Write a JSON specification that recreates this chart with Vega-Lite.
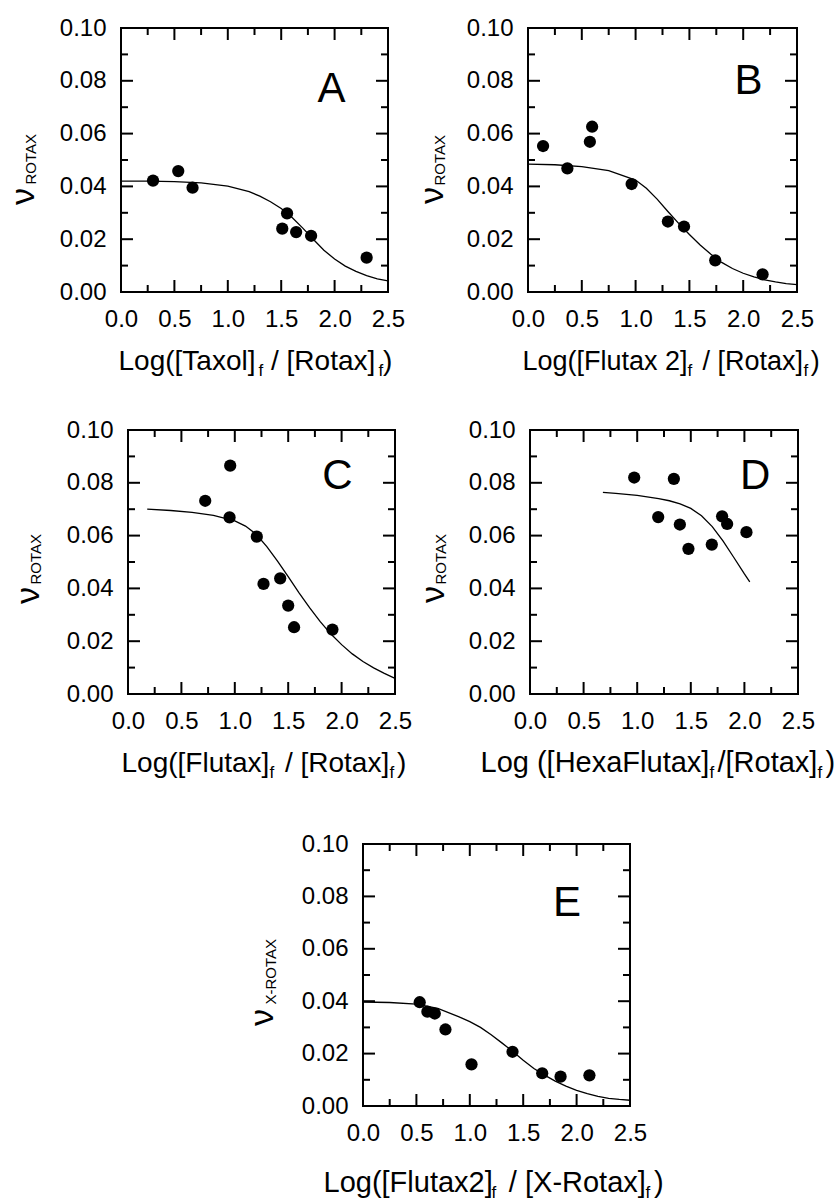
{
"$schema": "https://vega.github.io/schema/vega-lite/v6.json",
"padding": {"left": 5, "top": 15, "right": 0, "bottom": 0},
"background": "white",
"datasets": {
"A_pts": [{"x":0.30,"y":0.0422},{"x":0.536,"y":0.0458},{"x":0.67,"y":0.0395},{"x":1.51,"y":0.0240},{"x":1.555,"y":0.0298},{"x":1.64,"y":0.0227},{"x":1.78,"y":0.0213},{"x":2.30,"y":0.0130}],
"A_fit": [{"x":0,"y":0.0420},{"x":0.25,"y":0.0420},{"x":0.5,"y":0.0418},{"x":0.75,"y":0.0413},{"x":1.0,"y":0.0401},{"x":1.2,"y":0.0380},{"x":1.3,"y":0.0363},{"x":1.4,"y":0.0342},{"x":1.5,"y":0.0316},{"x":1.6,"y":0.0283},{"x":1.7,"y":0.0243},{"x":1.8,"y":0.0200},{"x":1.9,"y":0.0158},{"x":2.0,"y":0.0125},{"x":2.1,"y":0.0098},{"x":2.2,"y":0.0078},{"x":2.3,"y":0.0062},{"x":2.4,"y":0.0050},{"x":2.5,"y":0.0042}],
"B_pts": [{"x":0.14,"y":0.0553},{"x":0.366,"y":0.0468},{"x":0.575,"y":0.0569},{"x":0.596,"y":0.0626},{"x":0.963,"y":0.0409},{"x":1.30,"y":0.0267},{"x":1.45,"y":0.0248},{"x":1.74,"y":0.0120},{"x":2.18,"y":0.0067}],
"B_fit": [{"x":0,"y":0.0484},{"x":0.25,"y":0.0482},{"x":0.5,"y":0.0475},{"x":0.75,"y":0.0460},{"x":1.0,"y":0.0424},{"x":1.1,"y":0.0393},{"x":1.2,"y":0.0352},{"x":1.3,"y":0.0305},{"x":1.4,"y":0.0260},{"x":1.5,"y":0.0218},{"x":1.6,"y":0.0178},{"x":1.7,"y":0.0143},{"x":1.8,"y":0.0112},{"x":1.9,"y":0.0089},{"x":2.0,"y":0.0071},{"x":2.1,"y":0.0057},{"x":2.2,"y":0.0046},{"x":2.3,"y":0.0038},{"x":2.4,"y":0.0032},{"x":2.5,"y":0.0028}],
"C_pts": [{"x":0.723,"y":0.0732},{"x":0.957,"y":0.0865},{"x":0.951,"y":0.0669},{"x":1.206,"y":0.0596},{"x":1.269,"y":0.0417},{"x":1.425,"y":0.0438},{"x":1.50,"y":0.0335},{"x":1.555,"y":0.0253},{"x":1.914,"y":0.0244}],
"C_fit": [{"x":0.18,"y":0.0700},{"x":0.4,"y":0.0695},{"x":0.6,"y":0.0688},{"x":0.8,"y":0.0677},{"x":1.0,"y":0.0656},{"x":1.1,"y":0.0636},{"x":1.2,"y":0.0605},{"x":1.3,"y":0.0558},{"x":1.4,"y":0.0503},{"x":1.5,"y":0.0445},{"x":1.6,"y":0.0384},{"x":1.7,"y":0.0327},{"x":1.8,"y":0.0274},{"x":1.9,"y":0.0227},{"x":2.0,"y":0.0187},{"x":2.1,"y":0.0152},{"x":2.2,"y":0.0123},{"x":2.3,"y":0.0099},{"x":2.4,"y":0.0078},{"x":2.5,"y":0.0059}],
"D_pts": [{"x":0.972,"y":0.0820},{"x":1.342,"y":0.0815},{"x":1.196,"y":0.0670},{"x":1.398,"y":0.0642},{"x":1.478,"y":0.0550},{"x":1.696,"y":0.0566},{"x":1.792,"y":0.0673},{"x":1.839,"y":0.0644},{"x":2.019,"y":0.0613}],
"D_fit": [{"x":0.68,"y":0.0764},{"x":0.8,"y":0.0760},{"x":1.0,"y":0.0752},{"x":1.2,"y":0.0740},{"x":1.3,"y":0.0732},{"x":1.4,"y":0.0720},{"x":1.5,"y":0.0703},{"x":1.6,"y":0.0675},{"x":1.7,"y":0.0634},{"x":1.8,"y":0.0580},{"x":1.9,"y":0.0518},{"x":2.0,"y":0.0455},{"x":2.05,"y":0.0425}],
"E_pts": [{"x":0.531,"y":0.0396},{"x":0.603,"y":0.0360},{"x":0.672,"y":0.0353},{"x":0.772,"y":0.0292},{"x":1.016,"y":0.0159},{"x":1.40,"y":0.0207},{"x":1.678,"y":0.0125},{"x":1.85,"y":0.0112},{"x":2.12,"y":0.0117}],
"E_fit": [{"x":0,"y":0.0397},{"x":0.25,"y":0.0395},{"x":0.5,"y":0.0389},{"x":0.7,"y":0.0373},{"x":0.9,"y":0.0340},{"x":1.0,"y":0.0322},{"x":1.1,"y":0.0300},{"x":1.2,"y":0.0272},{"x":1.3,"y":0.0241},{"x":1.4,"y":0.0209},{"x":1.5,"y":0.0175},{"x":1.6,"y":0.0143},{"x":1.7,"y":0.0118},{"x":1.8,"y":0.0095},{"x":1.9,"y":0.0076},{"x":2.0,"y":0.0060},{"x":2.1,"y":0.0047},{"x":2.2,"y":0.0037},{"x":2.3,"y":0.0029},{"x":2.4,"y":0.0025},{"x":2.5,"y":0.0022}]
},
"vconcat": [
{"vconcat": [
{"hconcat": [
{"width": 267, "height": 264, "view": {"stroke": "black", "strokeWidth": 2},
"layer": [
{"data": {"name": "A_pts"}, "mark": {"type": "circle", "size": 150, "color": "black", "opacity": 1},
"encoding": {
"x": {"field": "x", "type": "quantitative", "scale": {"domain": [0, 2.5], "nice": false}, "axis": {"orient": "bottom", "values": [0,0.5,1,1.5,2,2.5], "format": ".1f", "labelPadding": 15, "title": "Log([Taxol]\u00a0 / [Rotax]\u00a0)", "titleFontSize": 28, "titleAlign": "left", "titleBaseline": "alphabetic", "titleAngle": 0, "titleX": -3, "titleY": 77}},
"y": {"field": "y", "type": "quantitative", "scale": {"domain": [0, 0.1], "nice": false}, "axis": {"orient": "left", "values": [0,0.02,0.04,0.06,0.08,0.1], "format": ".2f", "labelPadding": 15, "title": "ν", "titleFontSize": 34, "titleAngle": -90, "titleAlign": "center", "titleBaseline": "alphabetic", "titleX": -88, "titleY": 168}}}},
{"data": {"name": "A_fit"}, "mark": {"type": "line", "color": "black", "strokeWidth": 1.3},
"encoding": {"x": {"field": "x", "type": "quantitative", "axis": null}, "y": {"field": "y", "type": "quantitative", "axis": null}}},
{"data": {"values": [{"panel": "A"}]}, "mark": {"type": "text", "fontSize": 42, "font": "Liberation Sans", "color": "black", "align": "center", "baseline": "middle"},
"encoding": {
"x": {"datum": 1.97, "type": "quantitative", "axis": {"orient": "bottom", "values": [0.25], "labels": false, "title": "f", "titleFontSize": 17, "titleAlign": "left", "titleBaseline": "alphabetic", "titleAngle": 0, "titleX": 137, "titleY": 83}},
"y": {"datum": 0.077, "type": "quantitative", "axis": {"orient": "left", "values": [0.01], "labels": false, "title": "ROTAX", "titleFontSize": 15, "titleAngle": -90, "titleAlign": "left", "titleBaseline": "alphabetic", "titleX": -86, "titleY": 156}},
"text": {"field": "panel"}}},
{"data": {"values": [{"t":0},{"t":0.5},{"t":1},{"t":1.5},{"t":2},{"t":2.5}]}, "mark": {"type": "point", "shape": "M0,-1L0,1", "size": 144, "filled": false, "strokeWidth": 2, "color": "black", "opacity": 1},
"encoding": {"x": {"field": "t", "type": "quantitative", "axis": {"orient": "bottom", "values": [0.25], "labels": false, "title": "f", "titleFontSize": 17, "titleAlign": "left", "titleBaseline": "alphabetic", "titleAngle": 0, "titleX": 257, "titleY": 83}}, "y": {"datum": 0.00227, "type": "quantitative", "axis": null}}},
{"data": {"values": [{"t":0},{"t":0.5},{"t":1},{"t":1.5},{"t":2},{"t":2.5}]}, "mark": {"type": "point", "shape": "M0,-1L0,1", "size": 144, "filled": false, "strokeWidth": 2, "color": "black", "opacity": 1},
"encoding": {"x": {"field": "t", "type": "quantitative", "axis": null}, "y": {"datum": 0.09773, "type": "quantitative", "axis": null}}},
{"data": {"values": [{"t":0.25},{"t":0.75},{"t":1.25},{"t":1.75},{"t":2.25}]}, "mark": {"type": "point", "shape": "M0,-1L0,1", "size": 49, "filled": false, "strokeWidth": 2, "color": "black", "opacity": 1},
"encoding": {"x": {"field": "t", "type": "quantitative", "axis": null}, "y": {"datum": 0.00133, "type": "quantitative", "axis": null}}},
{"data": {"values": [{"t":0.25},{"t":0.75},{"t":1.25},{"t":1.75},{"t":2.25}]}, "mark": {"type": "point", "shape": "M0,-1L0,1", "size": 49, "filled": false, "strokeWidth": 2, "color": "black", "opacity": 1},
"encoding": {"x": {"field": "t", "type": "quantitative", "axis": null}, "y": {"datum": 0.09867, "type": "quantitative", "axis": null}}},
{"data": {"values": [{"t":0},{"t":0.02},{"t":0.04},{"t":0.06},{"t":0.08},{"t":0.1}]}, "mark": {"type": "point", "shape": "M-1,0L1,0", "size": 144, "filled": false, "strokeWidth": 2, "color": "black", "opacity": 1},
"encoding": {"y": {"field": "t", "type": "quantitative", "axis": null}, "x": {"datum": 0.056, "type": "quantitative", "axis": null}}},
{"data": {"values": [{"t":0},{"t":0.02},{"t":0.04},{"t":0.06},{"t":0.08},{"t":0.1}]}, "mark": {"type": "point", "shape": "M-1,0L1,0", "size": 144, "filled": false, "strokeWidth": 2, "color": "black", "opacity": 1},
"encoding": {"y": {"field": "t", "type": "quantitative", "axis": null}, "x": {"datum": 2.444, "type": "quantitative", "axis": null}}},
{"data": {"values": [{"t":0.01},{"t":0.03},{"t":0.05},{"t":0.07},{"t":0.09}]}, "mark": {"type": "point", "shape": "M-1,0L1,0", "size": 49, "filled": false, "strokeWidth": 2, "color": "black", "opacity": 1},
"encoding": {"y": {"field": "t", "type": "quantitative", "axis": null}, "x": {"datum": 0.0328, "type": "quantitative", "axis": null}}},
{"data": {"values": [{"t":0.01},{"t":0.03},{"t":0.05},{"t":0.07},{"t":0.09}]}, "mark": {"type": "point", "shape": "M-1,0L1,0", "size": 49, "filled": false, "strokeWidth": 2, "color": "black", "opacity": 1},
"encoding": {"y": {"field": "t", "type": "quantitative", "axis": null}, "x": {"datum": 2.4672, "type": "quantitative", "axis": null}}}
],
"resolve": {"axis": {"x": "independent", "y": "independent"}}},
{"width": 269, "height": 264, "view": {"stroke": "black", "strokeWidth": 2},
"layer": [
{"data": {"name": "B_pts"}, "mark": {"type": "circle", "size": 150, "color": "black", "opacity": 1},
"encoding": {
"x": {"field": "x", "type": "quantitative", "scale": {"domain": [0, 2.5], "nice": false}, "axis": {"orient": "bottom", "values": [0,0.5,1,1.5,2,2.5], "format": ".1f", "labelPadding": 15, "title": "Log([Flutax 2]\u00a0 / [Rotax]\u00a0)", "titleFontSize": 27, "titleAlign": "left", "titleBaseline": "alphabetic", "titleAngle": 0, "titleX": -6, "titleY": 77}},
"y": {"field": "y", "type": "quantitative", "scale": {"domain": [0, 0.1], "nice": false}, "axis": {"orient": "left", "values": [0,0.02,0.04,0.06,0.08,0.1], "format": ".2f", "labelPadding": 15, "title": "ν", "titleFontSize": 34, "titleAngle": -90, "titleAlign": "center", "titleBaseline": "alphabetic", "titleX": -86, "titleY": 167}}}},
{"data": {"name": "B_fit"}, "mark": {"type": "line", "color": "black", "strokeWidth": 1.3},
"encoding": {"x": {"field": "x", "type": "quantitative", "axis": null}, "y": {"field": "y", "type": "quantitative", "axis": null}}},
{"data": {"values": [{"panel": "B"}]}, "mark": {"type": "text", "fontSize": 42, "font": "Liberation Sans", "color": "black", "align": "center", "baseline": "middle"},
"encoding": {
"x": {"datum": 2.05, "type": "quantitative", "axis": {"orient": "bottom", "values": [0.25], "labels": false, "title": "f", "titleFontSize": 17, "titleAlign": "left", "titleBaseline": "alphabetic", "titleAngle": 0, "titleX": 159, "titleY": 83}},
"y": {"datum": 0.080, "type": "quantitative", "axis": {"orient": "left", "values": [0.01], "labels": false, "title": "ROTAX", "titleFontSize": 15, "titleAngle": -90, "titleAlign": "left", "titleBaseline": "alphabetic", "titleX": -84, "titleY": 157}},
"text": {"field": "panel"}}},
{"data": {"values": [{"t":0},{"t":0.5},{"t":1},{"t":1.5},{"t":2},{"t":2.5}]}, "mark": {"type": "point", "shape": "M0,-1L0,1", "size": 144, "filled": false, "strokeWidth": 2, "color": "black", "opacity": 1},
"encoding": {"x": {"field": "t", "type": "quantitative", "axis": {"orient": "bottom", "values": [0.25], "labels": false, "title": "f", "titleFontSize": 17, "titleAlign": "left", "titleBaseline": "alphabetic", "titleAngle": 0, "titleX": 275, "titleY": 83}}, "y": {"datum": 0.00227, "type": "quantitative", "axis": null}}},
{"data": {"values": [{"t":0},{"t":0.5},{"t":1},{"t":1.5},{"t":2},{"t":2.5}]}, "mark": {"type": "point", "shape": "M0,-1L0,1", "size": 144, "filled": false, "strokeWidth": 2, "color": "black", "opacity": 1},
"encoding": {"x": {"field": "t", "type": "quantitative", "axis": null}, "y": {"datum": 0.09773, "type": "quantitative", "axis": null}}},
{"data": {"values": [{"t":0.25},{"t":0.75},{"t":1.25},{"t":1.75},{"t":2.25}]}, "mark": {"type": "point", "shape": "M0,-1L0,1", "size": 49, "filled": false, "strokeWidth": 2, "color": "black", "opacity": 1},
"encoding": {"x": {"field": "t", "type": "quantitative", "axis": null}, "y": {"datum": 0.00133, "type": "quantitative", "axis": null}}},
{"data": {"values": [{"t":0.25},{"t":0.75},{"t":1.25},{"t":1.75},{"t":2.25}]}, "mark": {"type": "point", "shape": "M0,-1L0,1", "size": 49, "filled": false, "strokeWidth": 2, "color": "black", "opacity": 1},
"encoding": {"x": {"field": "t", "type": "quantitative", "axis": null}, "y": {"datum": 0.09867, "type": "quantitative", "axis": null}}},
{"data": {"values": [{"t":0},{"t":0.02},{"t":0.04},{"t":0.06},{"t":0.08},{"t":0.1}]}, "mark": {"type": "point", "shape": "M-1,0L1,0", "size": 144, "filled": false, "strokeWidth": 2, "color": "black", "opacity": 1},
"encoding": {"y": {"field": "t", "type": "quantitative", "axis": null}, "x": {"datum": 0.056, "type": "quantitative", "axis": null}}},
{"data": {"values": [{"t":0},{"t":0.02},{"t":0.04},{"t":0.06},{"t":0.08},{"t":0.1}]}, "mark": {"type": "point", "shape": "M-1,0L1,0", "size": 144, "filled": false, "strokeWidth": 2, "color": "black", "opacity": 1},
"encoding": {"y": {"field": "t", "type": "quantitative", "axis": null}, "x": {"datum": 2.444, "type": "quantitative", "axis": null}}},
{"data": {"values": [{"t":0.01},{"t":0.03},{"t":0.05},{"t":0.07},{"t":0.09}]}, "mark": {"type": "point", "shape": "M-1,0L1,0", "size": 49, "filled": false, "strokeWidth": 2, "color": "black", "opacity": 1},
"encoding": {"y": {"field": "t", "type": "quantitative", "axis": null}, "x": {"datum": 0.0328, "type": "quantitative", "axis": null}}},
{"data": {"values": [{"t":0.01},{"t":0.03},{"t":0.05},{"t":0.07},{"t":0.09}]}, "mark": {"type": "point", "shape": "M-1,0L1,0", "size": 49, "filled": false, "strokeWidth": 2, "color": "black", "opacity": 1},
"encoding": {"y": {"field": "t", "type": "quantitative", "axis": null}, "x": {"datum": 2.4672, "type": "quantitative", "axis": null}}}
],
"resolve": {"axis": {"x": "independent", "y": "independent"}}}
], "spacing": 140, "bounds": "flush"},
{"hconcat": [
{"width": 1, "height": 1, "data": {"values": [{}]}, "mark": {"type": "text", "text": ""}},
{"hconcat": [
{"width": 267, "height": 264, "view": {"stroke": "black", "strokeWidth": 2},
"layer": [
{"data": {"name": "C_pts"}, "mark": {"type": "circle", "size": 150, "color": "black", "opacity": 1},
"encoding": {
"x": {"field": "x", "type": "quantitative", "scale": {"domain": [0, 2.5], "nice": false}, "axis": {"orient": "bottom", "values": [0,0.5,1,1.5,2,2.5], "format": ".1f", "labelPadding": 15, "title": "Log([Flutax]\u00a0 / [Rotax]\u00a0)", "titleFontSize": 28, "titleAlign": "left", "titleBaseline": "alphabetic", "titleAngle": 0, "titleX": -7, "titleY": 77}},
"y": {"field": "y", "type": "quantitative", "scale": {"domain": [0, 0.1], "nice": false}, "axis": {"orient": "left", "values": [0,0.02,0.04,0.06,0.08,0.1], "format": ".2f", "labelPadding": 15, "title": "ν", "titleFontSize": 34, "titleAngle": -90, "titleAlign": "center", "titleBaseline": "alphabetic", "titleX": -90, "titleY": 165}}}},
{"data": {"name": "C_fit"}, "mark": {"type": "line", "color": "black", "strokeWidth": 1.3},
"encoding": {"x": {"field": "x", "type": "quantitative", "axis": null}, "y": {"field": "y", "type": "quantitative", "axis": null}}},
{"data": {"values": [{"panel": "C"}]}, "mark": {"type": "text", "fontSize": 42, "font": "Liberation Sans", "color": "black", "align": "center", "baseline": "middle"},
"encoding": {
"x": {"datum": 1.96, "type": "quantitative", "axis": {"orient": "bottom", "values": [0.25], "labels": false, "title": "f", "titleFontSize": 17, "titleAlign": "left", "titleBaseline": "alphabetic", "titleAngle": 0, "titleX": 141, "titleY": 83}},
"y": {"datum": 0.0826, "type": "quantitative", "axis": {"orient": "left", "values": [0.01], "labels": false, "title": "ROTAX", "titleFontSize": 15, "titleAngle": -90, "titleAlign": "left", "titleBaseline": "alphabetic", "titleX": -88, "titleY": 154}},
"text": {"field": "panel"}}},
{"data": {"values": [{"t":0},{"t":0.5},{"t":1},{"t":1.5},{"t":2},{"t":2.5}]}, "mark": {"type": "point", "shape": "M0,-1L0,1", "size": 144, "filled": false, "strokeWidth": 2, "color": "black", "opacity": 1},
"encoding": {"x": {"field": "t", "type": "quantitative", "axis": {"orient": "bottom", "values": [0.25], "labels": false, "title": "f", "titleFontSize": 17, "titleAlign": "left", "titleBaseline": "alphabetic", "titleAngle": 0, "titleX": 261, "titleY": 83}}, "y": {"datum": 0.00227, "type": "quantitative", "axis": null}}},
{"data": {"values": [{"t":0},{"t":0.5},{"t":1},{"t":1.5},{"t":2},{"t":2.5}]}, "mark": {"type": "point", "shape": "M0,-1L0,1", "size": 144, "filled": false, "strokeWidth": 2, "color": "black", "opacity": 1},
"encoding": {"x": {"field": "t", "type": "quantitative", "axis": null}, "y": {"datum": 0.09773, "type": "quantitative", "axis": null}}},
{"data": {"values": [{"t":0.25},{"t":0.75},{"t":1.25},{"t":1.75},{"t":2.25}]}, "mark": {"type": "point", "shape": "M0,-1L0,1", "size": 49, "filled": false, "strokeWidth": 2, "color": "black", "opacity": 1},
"encoding": {"x": {"field": "t", "type": "quantitative", "axis": null}, "y": {"datum": 0.00133, "type": "quantitative", "axis": null}}},
{"data": {"values": [{"t":0.25},{"t":0.75},{"t":1.25},{"t":1.75},{"t":2.25}]}, "mark": {"type": "point", "shape": "M0,-1L0,1", "size": 49, "filled": false, "strokeWidth": 2, "color": "black", "opacity": 1},
"encoding": {"x": {"field": "t", "type": "quantitative", "axis": null}, "y": {"datum": 0.09867, "type": "quantitative", "axis": null}}},
{"data": {"values": [{"t":0},{"t":0.02},{"t":0.04},{"t":0.06},{"t":0.08},{"t":0.1}]}, "mark": {"type": "point", "shape": "M-1,0L1,0", "size": 144, "filled": false, "strokeWidth": 2, "color": "black", "opacity": 1},
"encoding": {"y": {"field": "t", "type": "quantitative", "axis": null}, "x": {"datum": 0.056, "type": "quantitative", "axis": null}}},
{"data": {"values": [{"t":0},{"t":0.02},{"t":0.04},{"t":0.06},{"t":0.08},{"t":0.1}]}, "mark": {"type": "point", "shape": "M-1,0L1,0", "size": 144, "filled": false, "strokeWidth": 2, "color": "black", "opacity": 1},
"encoding": {"y": {"field": "t", "type": "quantitative", "axis": null}, "x": {"datum": 2.444, "type": "quantitative", "axis": null}}},
{"data": {"values": [{"t":0.01},{"t":0.03},{"t":0.05},{"t":0.07},{"t":0.09}]}, "mark": {"type": "point", "shape": "M-1,0L1,0", "size": 49, "filled": false, "strokeWidth": 2, "color": "black", "opacity": 1},
"encoding": {"y": {"field": "t", "type": "quantitative", "axis": null}, "x": {"datum": 0.0328, "type": "quantitative", "axis": null}}},
{"data": {"values": [{"t":0.01},{"t":0.03},{"t":0.05},{"t":0.07},{"t":0.09}]}, "mark": {"type": "point", "shape": "M-1,0L1,0", "size": 49, "filled": false, "strokeWidth": 2, "color": "black", "opacity": 1},
"encoding": {"y": {"field": "t", "type": "quantitative", "axis": null}, "x": {"datum": 2.4672, "type": "quantitative", "axis": null}}}
],
"resolve": {"axis": {"x": "independent", "y": "independent"}}},
{"width": 268, "height": 264, "view": {"stroke": "black", "strokeWidth": 2},
"layer": [
{"data": {"name": "D_pts"}, "mark": {"type": "circle", "size": 150, "color": "black", "opacity": 1},
"encoding": {
"x": {"field": "x", "type": "quantitative", "scale": {"domain": [0, 2.5], "nice": false}, "axis": {"orient": "bottom", "values": [0,0.5,1,1.5,2,2.5], "format": ".1f", "labelPadding": 15, "title": "Log ([HexaFlutax]\u00a0/[Rotax]\u00a0)", "titleFontSize": 29, "titleAlign": "left", "titleBaseline": "alphabetic", "titleAngle": 0, "titleX": -50, "titleY": 77}},
"y": {"field": "y", "type": "quantitative", "scale": {"domain": [0, 0.1], "nice": false}, "axis": {"orient": "left", "values": [0,0.02,0.04,0.06,0.08,0.1], "format": ".2f", "labelPadding": 15, "title": "ν", "titleFontSize": 34, "titleAngle": -90, "titleAlign": "center", "titleBaseline": "alphabetic", "titleX": -87, "titleY": 164}}}},
{"data": {"name": "D_fit"}, "mark": {"type": "line", "color": "black", "strokeWidth": 1.3},
"encoding": {"x": {"field": "x", "type": "quantitative", "axis": null}, "y": {"field": "y", "type": "quantitative", "axis": null}}},
{"data": {"values": [{"panel": "D"}]}, "mark": {"type": "text", "fontSize": 42, "font": "Liberation Sans", "color": "black", "align": "center", "baseline": "middle"},
"encoding": {
"x": {"datum": 2.10, "type": "quantitative", "axis": {"orient": "bottom", "values": [0.25], "labels": false, "title": "f", "titleFontSize": 17, "titleAlign": "left", "titleBaseline": "alphabetic", "titleAngle": 0, "titleX": 179, "titleY": 83}},
"y": {"datum": 0.0826, "type": "quantitative", "axis": {"orient": "left", "values": [0.01], "labels": false, "title": "ROTAX", "titleFontSize": 15, "titleAngle": -90, "titleAlign": "left", "titleBaseline": "alphabetic", "titleX": -85, "titleY": 154}},
"text": {"field": "panel"}}},
{"data": {"values": [{"t":0},{"t":0.5},{"t":1},{"t":1.5},{"t":2},{"t":2.5}]}, "mark": {"type": "point", "shape": "M0,-1L0,1", "size": 144, "filled": false, "strokeWidth": 2, "color": "black", "opacity": 1},
"encoding": {"x": {"field": "t", "type": "quantitative", "axis": {"orient": "bottom", "values": [0.25], "labels": false, "title": "f", "titleFontSize": 17, "titleAlign": "left", "titleBaseline": "alphabetic", "titleAngle": 0, "titleX": 287, "titleY": 83}}, "y": {"datum": 0.00227, "type": "quantitative", "axis": null}}},
{"data": {"values": [{"t":0},{"t":0.5},{"t":1},{"t":1.5},{"t":2},{"t":2.5}]}, "mark": {"type": "point", "shape": "M0,-1L0,1", "size": 144, "filled": false, "strokeWidth": 2, "color": "black", "opacity": 1},
"encoding": {"x": {"field": "t", "type": "quantitative", "axis": null}, "y": {"datum": 0.09773, "type": "quantitative", "axis": null}}},
{"data": {"values": [{"t":0.25},{"t":0.75},{"t":1.25},{"t":1.75},{"t":2.25}]}, "mark": {"type": "point", "shape": "M0,-1L0,1", "size": 49, "filled": false, "strokeWidth": 2, "color": "black", "opacity": 1},
"encoding": {"x": {"field": "t", "type": "quantitative", "axis": null}, "y": {"datum": 0.00133, "type": "quantitative", "axis": null}}},
{"data": {"values": [{"t":0.25},{"t":0.75},{"t":1.25},{"t":1.75},{"t":2.25}]}, "mark": {"type": "point", "shape": "M0,-1L0,1", "size": 49, "filled": false, "strokeWidth": 2, "color": "black", "opacity": 1},
"encoding": {"x": {"field": "t", "type": "quantitative", "axis": null}, "y": {"datum": 0.09867, "type": "quantitative", "axis": null}}},
{"data": {"values": [{"t":0},{"t":0.02},{"t":0.04},{"t":0.06},{"t":0.08},{"t":0.1}]}, "mark": {"type": "point", "shape": "M-1,0L1,0", "size": 144, "filled": false, "strokeWidth": 2, "color": "black", "opacity": 1},
"encoding": {"y": {"field": "t", "type": "quantitative", "axis": null}, "x": {"datum": 0.056, "type": "quantitative", "axis": null}}},
{"data": {"values": [{"t":0},{"t":0.02},{"t":0.04},{"t":0.06},{"t":0.08},{"t":0.1}]}, "mark": {"type": "point", "shape": "M-1,0L1,0", "size": 144, "filled": false, "strokeWidth": 2, "color": "black", "opacity": 1},
"encoding": {"y": {"field": "t", "type": "quantitative", "axis": null}, "x": {"datum": 2.444, "type": "quantitative", "axis": null}}},
{"data": {"values": [{"t":0.01},{"t":0.03},{"t":0.05},{"t":0.07},{"t":0.09}]}, "mark": {"type": "point", "shape": "M-1,0L1,0", "size": 49, "filled": false, "strokeWidth": 2, "color": "black", "opacity": 1},
"encoding": {"y": {"field": "t", "type": "quantitative", "axis": null}, "x": {"datum": 0.0328, "type": "quantitative", "axis": null}}},
{"data": {"values": [{"t":0.01},{"t":0.03},{"t":0.05},{"t":0.07},{"t":0.09}]}, "mark": {"type": "point", "shape": "M-1,0L1,0", "size": 49, "filled": false, "strokeWidth": 2, "color": "black", "opacity": 1},
"encoding": {"y": {"field": "t", "type": "quantitative", "axis": null}, "x": {"datum": 2.4672, "type": "quantitative", "axis": null}}}
],
"resolve": {"axis": {"x": "independent", "y": "independent"}}}
], "spacing": 135, "bounds": "flush"}
], "spacing": 6, "bounds": "flush"}
], "spacing": 402, "bounds": "flush"},
{"hconcat": [
{"width": 202, "height": 1, "data": {"values": [{}]}, "mark": {"type": "text", "text": ""}},
{"width": 267, "height": 262, "view": {"stroke": "black", "strokeWidth": 2},
"layer": [
{"data": {"name": "E_pts"}, "mark": {"type": "circle", "size": 150, "color": "black", "opacity": 1},
"encoding": {
"x": {"field": "x", "type": "quantitative", "scale": {"domain": [0, 2.5], "nice": false}, "axis": {"orient": "bottom", "values": [0,0.5,1,1.5,2,2.5], "format": ".1f", "labelPadding": 15, "title": "Log([Flutax2]\u00a0 / [X-Rotax]\u00a0)", "titleFontSize": 29, "titleAlign": "left", "titleBaseline": "alphabetic", "titleAngle": 0, "titleX": -40, "titleY": 85}},
"y": {"field": "y", "type": "quantitative", "scale": {"domain": [0, 0.1], "nice": false}, "axis": {"orient": "left", "values": [0,0.02,0.04,0.06,0.08,0.1], "format": ".2f", "labelPadding": 15, "title": "ν", "titleFontSize": 34, "titleAngle": -90, "titleAlign": "center", "titleBaseline": "alphabetic", "titleX": -91, "titleY": 173}}}},
{"data": {"name": "E_fit"}, "mark": {"type": "line", "color": "black", "strokeWidth": 1.3},
"encoding": {"x": {"field": "x", "type": "quantitative", "axis": null}, "y": {"field": "y", "type": "quantitative", "axis": null}}},
{"data": {"values": [{"panel": "E"}]}, "mark": {"type": "text", "fontSize": 42, "font": "Liberation Sans", "color": "black", "align": "center", "baseline": "middle"},
"encoding": {
"x": {"datum": 1.91, "type": "quantitative", "axis": {"orient": "bottom", "values": [0.25], "labels": false, "title": "f", "titleFontSize": 17, "titleAlign": "left", "titleBaseline": "alphabetic", "titleAngle": 0, "titleX": 128, "titleY": 91}},
"y": {"datum": 0.0775, "type": "quantitative", "axis": {"orient": "left", "values": [0.01], "labels": false, "title": "X-ROTAX", "titleFontSize": 15, "titleAngle": -90, "titleAlign": "left", "titleBaseline": "alphabetic", "titleX": -88, "titleY": 160}},
"text": {"field": "panel"}}},
{"data": {"values": [{"t":0},{"t":0.5},{"t":1},{"t":1.5},{"t":2},{"t":2.5}]}, "mark": {"type": "point", "shape": "M0,-1L0,1", "size": 144, "filled": false, "strokeWidth": 2, "color": "black", "opacity": 1},
"encoding": {"x": {"field": "t", "type": "quantitative", "axis": {"orient": "bottom", "values": [0.25], "labels": false, "title": "f", "titleFontSize": 17, "titleAlign": "left", "titleBaseline": "alphabetic", "titleAngle": 0, "titleX": 282, "titleY": 91}}, "y": {"datum": 0.00229, "type": "quantitative", "axis": null}}},
{"data": {"values": [{"t":0},{"t":0.5},{"t":1},{"t":1.5},{"t":2},{"t":2.5}]}, "mark": {"type": "point", "shape": "M0,-1L0,1", "size": 144, "filled": false, "strokeWidth": 2, "color": "black", "opacity": 1},
"encoding": {"x": {"field": "t", "type": "quantitative", "axis": null}, "y": {"datum": 0.09771, "type": "quantitative", "axis": null}}},
{"data": {"values": [{"t":0.25},{"t":0.75},{"t":1.25},{"t":1.75},{"t":2.25}]}, "mark": {"type": "point", "shape": "M0,-1L0,1", "size": 49, "filled": false, "strokeWidth": 2, "color": "black", "opacity": 1},
"encoding": {"x": {"field": "t", "type": "quantitative", "axis": null}, "y": {"datum": 0.00134, "type": "quantitative", "axis": null}}},
{"data": {"values": [{"t":0.25},{"t":0.75},{"t":1.25},{"t":1.75},{"t":2.25}]}, "mark": {"type": "point", "shape": "M0,-1L0,1", "size": 49, "filled": false, "strokeWidth": 2, "color": "black", "opacity": 1},
"encoding": {"x": {"field": "t", "type": "quantitative", "axis": null}, "y": {"datum": 0.09866, "type": "quantitative", "axis": null}}},
{"data": {"values": [{"t":0},{"t":0.02},{"t":0.04},{"t":0.06},{"t":0.08},{"t":0.1}]}, "mark": {"type": "point", "shape": "M-1,0L1,0", "size": 144, "filled": false, "strokeWidth": 2, "color": "black", "opacity": 1},
"encoding": {"y": {"field": "t", "type": "quantitative", "axis": null}, "x": {"datum": 0.056, "type": "quantitative", "axis": null}}},
{"data": {"values": [{"t":0},{"t":0.02},{"t":0.04},{"t":0.06},{"t":0.08},{"t":0.1}]}, "mark": {"type": "point", "shape": "M-1,0L1,0", "size": 144, "filled": false, "strokeWidth": 2, "color": "black", "opacity": 1},
"encoding": {"y": {"field": "t", "type": "quantitative", "axis": null}, "x": {"datum": 2.444, "type": "quantitative", "axis": null}}},
{"data": {"values": [{"t":0.01},{"t":0.03},{"t":0.05},{"t":0.07},{"t":0.09}]}, "mark": {"type": "point", "shape": "M-1,0L1,0", "size": 49, "filled": false, "strokeWidth": 2, "color": "black", "opacity": 1},
"encoding": {"y": {"field": "t", "type": "quantitative", "axis": null}, "x": {"datum": 0.0328, "type": "quantitative", "axis": null}}},
{"data": {"values": [{"t":0.01},{"t":0.03},{"t":0.05},{"t":0.07},{"t":0.09}]}, "mark": {"type": "point", "shape": "M-1,0L1,0", "size": 49, "filled": false, "strokeWidth": 2, "color": "black", "opacity": 1},
"encoding": {"y": {"field": "t", "type": "quantitative", "axis": null}, "x": {"datum": 2.4672, "type": "quantitative", "axis": null}}}
],
"resolve": {"axis": {"x": "independent", "y": "independent"}}}
], "spacing": 40, "bounds": "flush"}
],
"spacing": 816,
"bounds": "flush",
"config": {
"view": {"stroke": null},
"axis": {"ticks": false, "domain": false, "grid": false, "labelFont": "Liberation Sans Narrow, Arial Narrow, Liberation Sans", "labelFontSize": 24, "labelColor": "black", "titleColor": "black", "titleFont": "Liberation Sans", "titleFontWeight": "normal", "labelFlush": false, "labelOverlap": false}
}
}
